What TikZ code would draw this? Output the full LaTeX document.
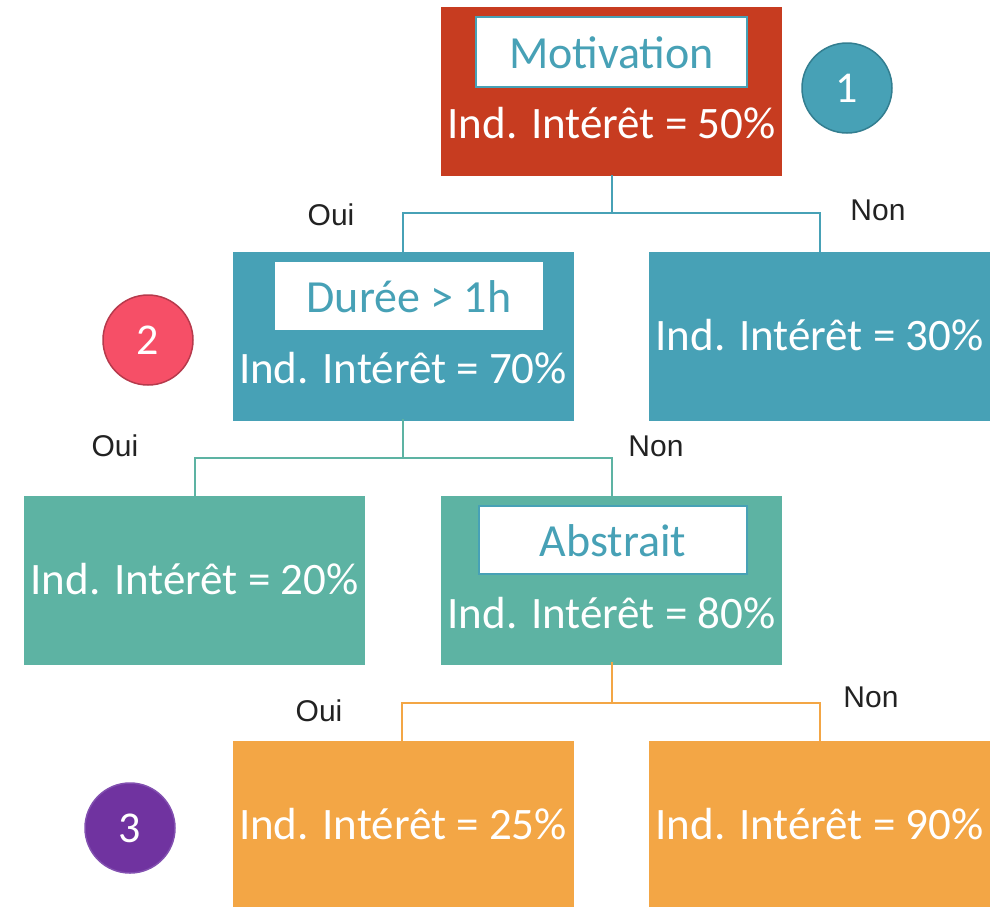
\documentclass[tikz,border=0pt]{standalone}
\usepackage{fontspec}
\setmainfont{Carlito}
\newfontfamily\labfont{Liberation Sans}
\definecolor{cred}{HTML}{C73C20}
\definecolor{cteal}{HTML}{47A1B6}
\definecolor{cgreen}{HTML}{5DB3A3}
\definecolor{corange}{HTML}{F3A645}
\definecolor{cpink}{HTML}{F64F67}
\definecolor{cpinkd}{HTML}{B63A4C}
\definecolor{cpurple}{HTML}{7033A0}
\definecolor{cpurplel}{HTML}{8250B0}
\definecolor{ctealdark}{HTML}{337E90}
\definecolor{clab}{HTML}{222222}
\begin{document}
\begin{tikzpicture}[x=1pt,y=-1pt,
  box/.style={draw=none,minimum width=341pt,minimum height=169pt,inner sep=0pt},
  inbox/.style={fill=white,inner sep=0pt},
  val/.style={text=white,font=\fontsize{45}{54}\selectfont,anchor=base,inner sep=0pt},
  ttl/.style={text=cteal,font=\fontsize{46}{55}\selectfont,anchor=base,inner sep=0pt},
  lab/.style={text=clab,font=\labfont\fontsize{30}{36}\selectfont,inner sep=0pt},
  num/.style={circle,minimum size=90pt,inner sep=0pt,line width=1.5pt,text=white,font=\fontsize{44}{52}\selectfont},
  conn/.style={line width=2pt}]
\useasboundingbox (0,0) rectangle (1004,906);
% boxes
\node[box,fill=cred] (mot) at (611.5,91.5) {};
\node[box,fill=cteal] (dur) at (403,336) {};
\node[box,fill=cteal] (n30) at (819.5,336) {};
\node[box,fill=cgreen] (g20) at (194.5,580.5) {};
\node[box,fill=cgreen] (abs) at (611.5,580.5) {};
\node[box,fill=corange,minimum height=166pt] (o25) at (403,824) {};
\node[box,fill=corange,minimum height=166pt] (o90) at (819.5,824) {};
% inner title boxes
\node[inbox,draw=cteal,line width=2.5pt,minimum width=271pt,minimum height=70pt] (motin) at (611.5,52) {};
\node[inbox,minimum width=268pt,minimum height=68pt] (durin) at (409,296) {};
\node[inbox,draw=cteal,line width=2.5pt,minimum width=268pt,minimum height=68pt] (absin) at (613,540) {};
% texts
\node[ttl] (tmot) at (611.5,68) {Motivation};
\node[val] (vmot) at (611.5,138) {Ind. Intérêt = 50\%};
\node[ttl] (tdur) at (409,312) {Durée > 1h};
\node[val] (vdur) at (403,383) {Ind. Intérêt = 70\%};
\node[val] (v30) at (819.5,350) {Ind. Intérêt = 30\%};
\node[val] (v20) at (194.5,594) {Ind. Intérêt = 20\%};
\node[ttl] (tabs) at (613,556) {Abstrait};
\node[val] (vabs) at (611.5,628) {Ind. Intérêt = 80\%};
\node[val] (v25) at (403,839) {Ind. Intérêt = 25\%};
\node[val] (v90) at (819.5,839) {Ind. Intérêt = 90\%};
% circles
\node[num,fill=cteal,draw=ctealdark] (c1) at (847,88) {1};
\node[num,fill=cpink,draw=cpinkd] (c2) at (148,340) {2};
\node[num,fill=cpurple,draw=cpurplel,minimum size=90pt] (c3) at (130,828) {3};
% labels
\node[lab] (oui1) at (331,215) {Oui};
\node[lab] (non1) at (878,210) {Non};
\node[lab] (oui2) at (115,446) {Oui};
\node[lab] (non2) at (656,446) {Non};
\node[lab] (oui3) at (319,711) {Oui};
\node[lab] (non3) at (871,697) {Non};
% connectors
\coordinate (j1) at (611.5,213);
\coordinate (j2) at (403,458);
\coordinate (j3) at (611.5,703);
\draw[conn,cteal] ([yshift=1pt]mot.south) -- (j1);
\draw[conn,cteal] (402,213) -- (820,213);
\draw[conn,cteal] (j1) -| ([yshift=-2pt]dur.north);
\draw[conn,cteal] (j1) -| ([yshift=-4pt]n30.north);
\draw[conn,cgreen] ([yshift=2pt]dur.south) -- (j2);
\draw[conn,cgreen] (j2) -| ([yshift=-3pt]g20.north);
\draw[conn,cgreen] (j2) -| ([yshift=-3pt]abs.north);
\draw[conn,corange] ([yshift=3pt]abs.south) -- (j3);
\draw[conn,corange] (j3) -| ([xshift=-1pt,yshift=-3pt]o25.north);
\draw[conn,corange] (j3) -| ([xshift=0.5pt,yshift=-3pt]o90.north);
\end{tikzpicture}
\end{document}
